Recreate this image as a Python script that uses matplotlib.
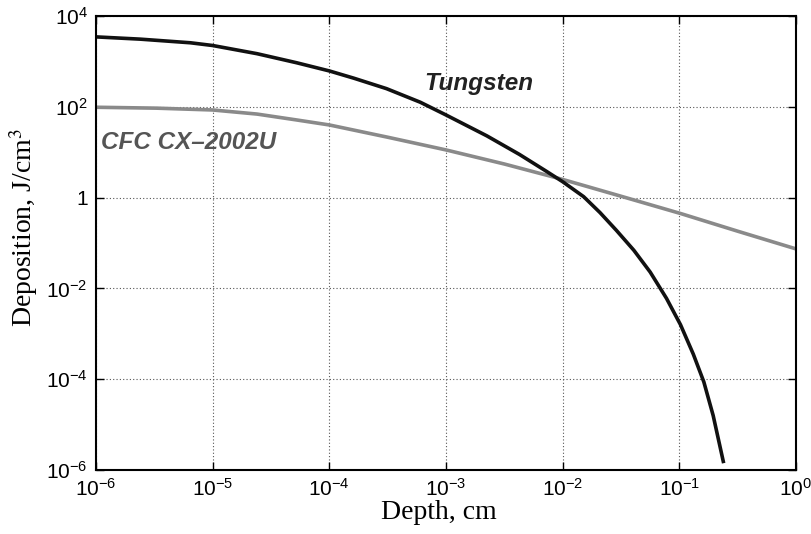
import numpy as np
import matplotlib
matplotlib.use("Agg")
import matplotlib.pyplot as plt

# Data (log10 values)
tungsten_logx = [-6.0, -5.62, -5.19, -5.0, -4.62, -4.28, -4.0, -3.79, -3.51, -3.22, -3.0,
                 -2.65, -2.37, -2.14, -2.0, -1.82, -1.68, -1.54, -1.39, -1.25, -1.11,
                 -0.99, -0.88, -0.79, -0.71, -0.62]
tungsten_logy = [3.54, 3.49, 3.41, 3.35, 3.17, 2.97, 2.79, 2.63, 2.40, 2.10, 1.82,
                 1.36, 0.95, 0.58, 0.35, 0.02, -0.33, -0.72, -1.16, -1.64, -2.22,
                 -2.80, -3.45, -4.06, -4.80, -5.85]
cfc_logx = [-6.0, -5.48, -5.0, -4.62, -4.28, -4.0, -3.5, -3.0, -2.5, -2.0, -1.54,
            -0.99, -0.5, 0.0]
cfc_logy = [1.99, 1.97, 1.93, 1.84, 1.71, 1.60, 1.33, 1.05, 0.74, 0.40, 0.06,
            -0.35, -0.74, -1.13]

x_ticks = [1e-6, 1e-5, 1e-4, 1e-3, 1e-2, 1e-1, 1e0]
x_ticklabels = [r"$10^{-6}$", r"$10^{-5}$", r"$10^{-4}$", r"$10^{-3}$", r"$10^{-2}$", r"$10^{-1}$", r"$10^{0}$"]
y_ticks = [1e-6, 1e-4, 1e-2, 1, 1e2, 1e4]
y_ticklabels = [r"$10^{-6}$", r"$10^{-4}$", r"$10^{-2}$", "1", r"$10^{2}$", r"$10^{4}$"]

plt.rcParams['mathtext.fontset'] = 'custom'
plt.rcParams['mathtext.rm'] = 'Liberation Sans'
plt.rcParams['mathtext.it'] = 'Liberation Sans:italic'

fig = plt.figure(figsize=(8.11, 5.34), dpi=100)
ax = fig.add_axes([96/811, 1 - 470/534, 700/811, 454/534])

ax.plot(10**np.array(cfc_logx), 10**np.array(cfc_logy), color='#8a8a8a', lw=2.6,
        solid_capstyle='butt', solid_joinstyle='round')
ax.plot(10**np.array(tungsten_logx), 10**np.array(tungsten_logy), color='#111111', lw=2.6,
        solid_capstyle='butt', solid_joinstyle='round')

ax.set_xscale('log')
ax.set_yscale('log')
ax.set_xlim(1e-6, 1)
ax.set_ylim(1e-6, 1e4)
ax.set_xticks(x_ticks)
ax.set_xticklabels(x_ticklabels)
ax.set_yticks(y_ticks)
ax.set_yticklabels(y_ticklabels)
ax.minorticks_off()
ax.tick_params(direction='in', length=6, width=1, top=True, right=True,
               labelsize=15, pad=6)
for lab in ax.get_xticklabels() + ax.get_yticklabels():
    lab.set_fontfamily('Liberation Sans')

ax.grid(True, which='major', color='#555555', linestyle=(0, (1, 2)), linewidth=0.8)
for s in ax.spines.values():
    s.set_linewidth(1.5)

ax.set_xlabel("Depth, cm", fontsize=20, fontfamily='Liberation Serif', labelpad=2)
ax.set_ylabel(r"Deposition, J/cm$^3$", fontsize=20, fontfamily='Liberation Serif', labelpad=4)
ax.yaxis.label.set_math_fontfamily('stix')
ax.xaxis.set_label_coords(0.49, -0.065)
ax.yaxis.set_label_coords(-0.080, 0.533)

ax.text(0.547, 0.852, "Tungsten", transform=ax.transAxes, fontsize=17.5,
        fontweight='bold', fontstyle='italic', fontfamily='Liberation Sans',
        color='#222222', ha='center', va='center')
ax.text(0.133, 0.722, "CFC CX\u20132002U", transform=ax.transAxes, fontsize=17.5,
        fontweight='bold', fontstyle='italic', fontfamily='Liberation Sans',
        color='#555555', ha='center', va='center')

fig.savefig("out.png", dpi=100)
